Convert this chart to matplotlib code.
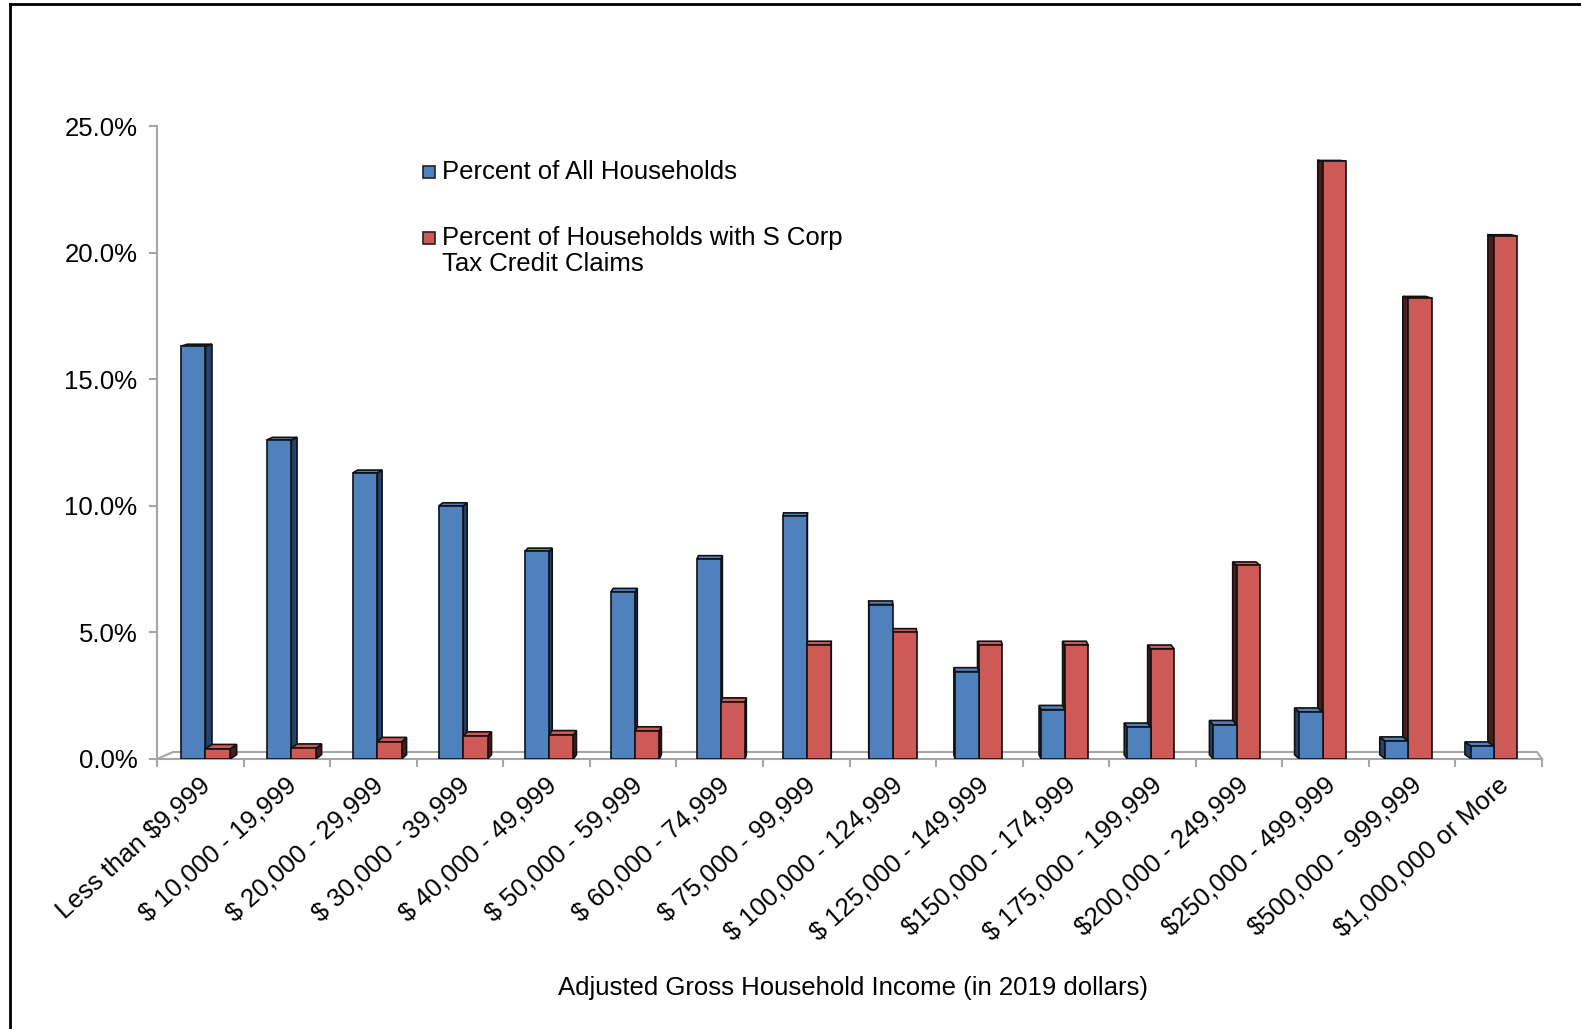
import matplotlib
matplotlib.use('Agg')
import matplotlib.pyplot as plt
from matplotlib.patches import Polygon, Rectangle
from matplotlib.lines import Line2D

categories = ["Less than $9,999", "$ 10,000 - 19,999", "$ 20,000 - 29,999",
              "$ 30,000 - 39,999", "$ 40,000 - 49,999", "$ 50,000 - 59,999",
              "$ 60,000 - 74,999", "$ 75,000 - 99,999", "$ 100,000 - 124,999",
              "$ 125,000 - 149,999", "$150,000 - 174,999", "$ 175,000 - 199,999",
              "$200,000 - 249,999", "$250,000 - 499,999", "$500,000 - 999,999",
              "$1,000,000 or More"]
all_households = [16.3, 12.6, 11.3, 10.0, 8.2, 6.6, 7.9, 9.6, 6.1, 3.45,
                  1.95, 1.25, 1.35, 1.85, 0.7, 0.5]
scorp_households = [0.4, 0.42, 0.68, 0.9, 0.95, 1.1, 2.25, 4.5, 5.0, 4.5,
                    4.5, 4.35, 7.65, 23.6, 18.2, 20.65]
series_names = ["Percent of All Households",
                "Percent of Households with S Corp\nTax Credit Claims"]
yticks = [0, 5, 10, 15, 20, 25]
ytick_labels = ["0.0%", "5.0%", "10.0%", "15.0%", "20.0%", "25.0%"]
xlabel = "Adjusted Gross Household Income (in 2019 dollars)"

plt.rcParams['font.family'] = ['Liberation Sans', 'DejaVu Sans']

W, H = 1581, 1029
fig = plt.figure(figsize=(W / 100, H / 100), dpi=100)
X0, X1, Y0, Y1 = 157, 1542, 759, 126
ax = fig.add_axes([X0 / W, 1 - Y0 / H, (X1 - X0) / W, (Y0 - Y1) / H])
n = len(categories)
ax.set_xlim(0, n)
ax.set_ylim(0, 25)
px_x = n / (X1 - X0)
px_y = 25 / (Y0 - Y1)

gray = '#A6A6A6'
for s in ['top', 'right']:
    ax.spines[s].set_visible(False)
for s in ['left', 'bottom']:
    ax.spines[s].set_color(gray)
    ax.spines[s].set_linewidth(1.5)

ax.set_yticks(yticks)
ax.set_yticklabels(ytick_labels, fontsize=18.5)
ax.set_xticks(range(n + 1))
ax.set_xticklabels([])
ax.tick_params(axis='both', colors=gray, length=6, width=1.5, labelcolor='black')
ax.tick_params(axis='y', pad=8)

front_colors = ['#4F81BD', '#CD5A57']
side_colors = ['#23436B', '#4A1C1C']
edge = '#111111'

for k in range(n):
    t = k / (n - 1)
    center = k + 0.56 - 0.11 * t
    bw = 0.285 - 0.02 * t
    dx = 6.5 * px_x * (1 - 2 * t)
    vals = [all_households[k], scorp_households[k]]
    lefts = [center - bw, center]
    order = [0, 1] if dx > 0 else [1, 0]
    for zi, i in enumerate(order):
        v = vals[i]
        xl = lefts[i]
        xr = xl + bw
        dy = max(1.0, 4.5 - 0.15 * v) * px_y
        z = 3 + k * 0.01 + zi * 0.1
        xs = xr if dx > 0 else xl
        side = Polygon([(xs, 0), (xs + dx, dy), (xs + dx, v + dy), (xs, v)],
                       closed=True, facecolor=side_colors[i], edgecolor=edge,
                       linewidth=1.2, zorder=z)
        ax.add_patch(side)
        top = Polygon([(xl, v), (xl + dx, v + dy), (xr + dx, v + dy), (xr, v)],
                      closed=True, facecolor=front_colors[i], edgecolor=edge,
                      linewidth=1.2, zorder=z + 0.01)
        ax.add_patch(top)
        ax.bar([xl], [v], width=bw, align='edge', color=front_colors[i],
               edgecolor=edge, linewidth=1.2, zorder=z + 0.02)

# floor
fy = 7 * px_y
ax.add_line(Line2D([0, 16 * px_x, (1537 - X0) * px_x, n], [0, fy, fy, 0],
                   color=gray, linewidth=1.5, clip_on=False, zorder=1))

# category labels
for k, lab in enumerate(categories):
    ax.text(k + 0.48, -14 * px_y, lab, rotation=42, ha='right', va='top',
            rotation_mode='anchor', fontsize=18.5, color='black')

fig.text(853 / W, 1 - 988 / H, xlabel, ha='center', va='center',
         fontsize=18.5)

# legend (manual)
leg_x = 423
for (yc, name, col) in [(172, series_names[0], front_colors[0]),
                        (238, series_names[1], front_colors[1])]:
    fig.patches.append(Rectangle((leg_x / W, 1 - (yc + 6) / H), 12 / W, 12 / H,
                                 transform=fig.transFigure, facecolor=col,
                                 edgecolor='#222222', linewidth=1.2))
    fig.text(442 / W, 1 - (yc - 12) / H, name, ha='left', va='top', fontsize=18.5,
             linespacing=1.12)

# frame
fig.add_artist(Line2D([10 / W, 10 / W], [0, 1 - 3.5 / H], transform=fig.transFigure,
                      color='black', linewidth=2))
fig.add_artist(Line2D([10 / W, 1], [1 - 3.5 / H, 1 - 3.5 / H], transform=fig.transFigure,
                      color='black', linewidth=2))

fig.savefig('out.png', dpi=100)
